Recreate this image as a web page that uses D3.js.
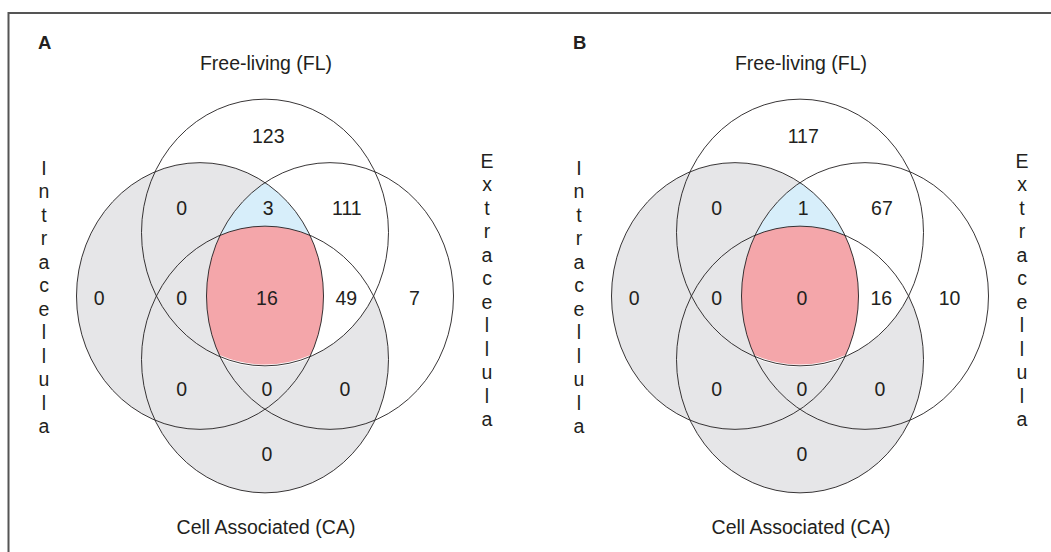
<!DOCTYPE html>
<html>
<head>
<meta charset="utf-8">
<script src="https://cdn.jsdelivr.net/npm/d3@7"></script>
<style>
  html, body { margin: 0; padding: 0; background: #fff; }
  svg { display: block; }
  text { font-family: "Liberation Sans", Arial, Helvetica, sans-serif; fill: #231f20; }
</style>
</head>
<body>
<svg id="chart" width="1051" height="552"></svg>
<script>
// ---------------- data ----------------
const panelLetters = ["A", "B"];
const setNames = ["Free-living (FL)", "Intracellula", "Extracellula", "Cell Associated (CA)"];
const regionKeys = ["FL", "FL&I", "FL&I&E", "FL&E", "I", "FL&I&CA", "FL&I&E&CA", "FL&E&CA", "E", "I&CA", "I&E&CA", "E&CA", "CA"];
const valuesA = [123, 0, 3, 111, 0, 0, 16, 49, 7, 0, 0, 0, 0];
const valuesB = [117, 0, 1, 67, 0, 0, 0, 16, 10, 0, 0, 0, 0];
const panelValues = [valuesA, valuesB];

// ---------------- layout ----------------
const W = 1051, H = 552;
const svg = d3.select("#chart");
const panelCenters = [{cx: 265, cy: 296}, {cx: 800, cy: 296}];
const unitX = 65, unitY = 63.5;       // distance between set centres
const rX = 1.9, rY = 2.1;             // ellipse radii in units
// set centres in unit space
const setCenters = {FL: [0, -1], I: [-1, 0], E: [1, 0], CA: [0, 1]};
// label anchor points (unit space, y = baseline)
const labelPos = {
  "FL": [0.05, -2.41], "FL&I": [-1.28, -1.28], "FL&I&E": [0.05, -1.28], "FL&E": [1.26, -1.28],
  "I": [-2.55, 0.14], "FL&I&CA": [-1.28, 0.14], "FL&I&E&CA": [0.03, 0.14], "FL&E&CA": [1.25, 0.14], "E": [2.3, 0.14],
  "I&CA": [-1.28, 1.57], "I&E&CA": [0.03, 1.57], "E&CA": [1.23, 1.57], "CA": [0.03, 2.6]
};

const GREY = "#e6e6e8", BLUE = "#d7eefa", PINK = "#f4a6aa", INK = "#231f20";

// frame
svg.append("path")
  .attr("d", `M8.5,${H} L8.5,13 L${W},13`)
  .attr("fill", "none").attr("stroke", "#555").attr("stroke-width", 2);

const defs = svg.append("defs");

panelLetters.forEach((letter, pi) => {
  const {cx, cy} = panelCenters[pi];
  const x = d3.scaleLinear().domain([-1, 1]).range([cx - unitX, cx + unitX]);
  const y = d3.scaleLinear().domain([-1, 1]).range([cy - unitY, cy + unitY]);
  const rx = x(rX) - x(0), ry = y(rY) - y(0);
  const g = svg.append("g");

  const ell = (sel, k) => sel.append("ellipse")
    .attr("cx", x(setCenters[k][0])).attr("cy", y(setCenters[k][1]))
    .attr("rx", rx).attr("ry", ry);

  // clip paths
  ["FL", "I", "E", "CA"].forEach(k => {
    ell(defs.append("clipPath").attr("id", `clip-${pi}-${k}`), k);
  });

  // grey: Intracellular and Cell-associated sets
  ell(g, "I").attr("fill", GREY);
  ell(g, "CA").attr("fill", GREY);

  // white: FL ∩ Extra
  ell(g.append("g").attr("clip-path", `url(#clip-${pi}-E)`), "FL").attr("fill", "#fff");

  // blue: FL ∩ Extra ∩ Intra
  const gb = g.append("g").attr("clip-path", `url(#clip-${pi}-E)`)
    .append("g").attr("clip-path", `url(#clip-${pi}-I)`);
  ell(gb, "FL").attr("fill", BLUE);

  // pink: all four
  const gp = g.append("g").attr("clip-path", `url(#clip-${pi}-E)`)
    .append("g").attr("clip-path", `url(#clip-${pi}-I)`)
    .append("g").attr("clip-path", `url(#clip-${pi}-CA)`);
  ell(gp, "FL").attr("fill", PINK).attr("stroke", "#fff").attr("stroke-width", 2.5);

  // outlines
  ["FL", "I", "E", "CA"].forEach(k => {
    ell(g, k).attr("fill", "none").attr("stroke", INK).attr("stroke-width", 0.9);
  });

  // region values
  const vals = panelValues[pi];
  g.selectAll("text.val").data(regionKeys).enter().append("text")
    .attr("class", "val")
    .attr("x", k => x(labelPos[k][0]))
    .attr("y", k => y(labelPos[k][1]))
    .attr("text-anchor", "middle")
    .attr("font-size", 19.5)
    .text((k, i) => vals[i]);

  // panel letter
  g.append("text").attr("x", cx - 227).attr("y", 49)
    .attr("font-size", 18.5).attr("font-weight", "bold").text(letter);

  // set titles
  g.append("text").attr("x", cx + 1).attr("y", 70).attr("text-anchor", "middle")
    .attr("font-size", 19.5).text(setNames[0]);
  g.append("text").attr("x", cx + 1).attr("y", 534).attr("text-anchor", "middle")
    .attr("font-size", 19.5).text(setNames[3]);

  // vertical side labels
  const stepY = 23.45;
  const sides = [{name: setNames[1], x: cx - 221, y0: 175}, {name: setNames[2], x: cx + 222, y0: 168}];
  sides.forEach(s => {
    g.append("g").selectAll("text").data(Array.from(s.name)).enter().append("text")
      .attr("x", s.x).attr("y", (c, i) => s.y0 + i * stepY)
      .attr("text-anchor", "middle").attr("font-size", 19.5)
      .text(c => c);
  });
});
</script>
</body>
</html>
